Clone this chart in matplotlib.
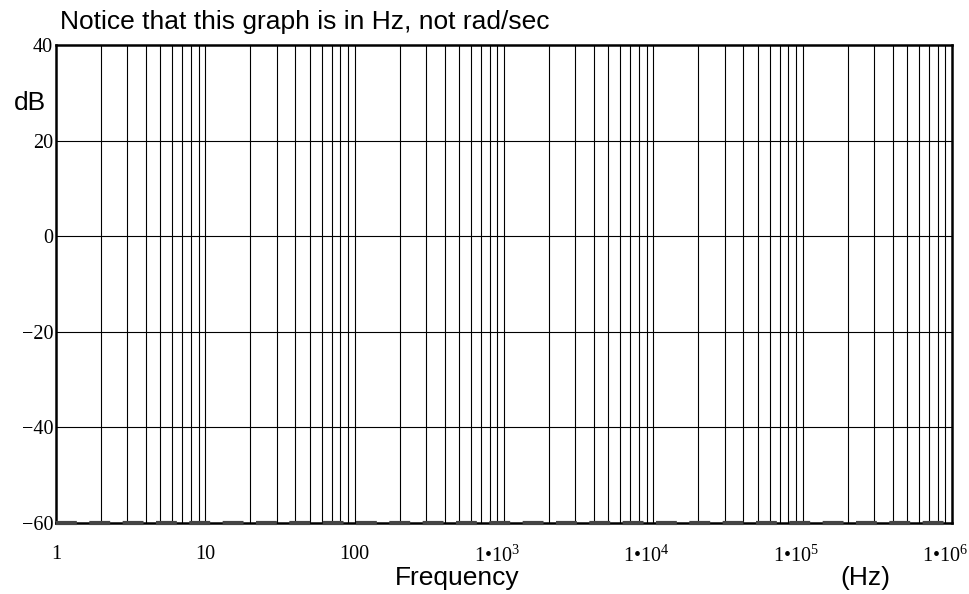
import numpy as np
import matplotlib
matplotlib.use('Agg')
from matplotlib import pyplot as plt
from matplotlib.ticker import FixedLocator, FixedFormatter
from matplotlib.transforms import ScaledTranslation

## data
x_ticks = [1, 10, 100, 1e3, 1e4, 1e5, 1e6]
x_labels = ['1', '10', '100', '1\u2022$10^{3}$', '1\u2022$10^{4}$',
            '1\u2022$10^{5}$', '1\u2022$10^{6}$']
y_ticks = [-60, -40, -20, 0, 20, 40]
y_labels = ['\u221260', '\u221240', '\u221220', '0', '20', '40']
trace_f = [1, 1e6]
trace_db = [-60, -60]

plt.rcParams['mathtext.fontset'] = 'custom'
plt.rcParams['mathtext.rm'] = 'Liberation Serif'
plt.rcParams['mathtext.it'] = 'Liberation Serif'
plt.rcParams['mathtext.default'] = 'rm'

fig = plt.figure(figsize=(9.69, 5.94), dpi=100)
ax = fig.add_axes([56/969, 1 - 523/594, 896/969, 478/594])
ax.set_xscale('log')
ax.set_xlim(1, 1e6)
ax.set_ylim(-60, 40)

## grid: every 1..9 in each decade, and every 20 dB
minor = [m * 10**d for d in range(6) for m in range(1, 10)][1:]
for f in minor:
    ax.axvline(f, color='black', lw=0.8, zorder=1)
for y in y_ticks[1:-1]:
    ax.axhline(y, color='black', lw=0.8, zorder=1)

ax.plot(trace_f, trace_db, color='#444444', lw=3, dashes=(5, 3), zorder=3,
        clip_on=False)

ax.xaxis.set_major_locator(FixedLocator(x_ticks))
ax.xaxis.set_major_formatter(FixedFormatter(x_labels))
ax.xaxis.set_minor_locator(FixedLocator([]))
ax.set_yticks(y_ticks)
ax.set_yticklabels(y_labels)
ax.tick_params(length=0)
ax.tick_params(axis='x', pad=16)
ax.tick_params(axis='y', pad=2)
for lab in ax.get_xticklabels() + ax.get_yticklabels():
    lab.set_fontfamily('Liberation Serif')
    lab.set_fontsize(14.5)
# exponent labels sit a bit left of their tick
for lab in ax.get_xticklabels()[3:]:
    lab.set_transform(lab.get_transform() + ScaledTranslation(-7/100, 0, fig.dpi_scale_trans))
for s in ax.spines.values():
    s.set_linewidth(1.8)

fig.text(60/969, 1 - 22/594, 'Notice that this graph is in Hz, not rad/sec',
         fontsize=19, family='Liberation Sans', va='center', ha='left')
fig.text(30/969, 1 - 103/594, 'dB', fontsize=19, family='Liberation Sans',
         va='center', ha='center')
fig.text(457/969, 1 - 578/594, 'Frequency', fontsize=19, family='Liberation Sans',
         va='center', ha='center')
fig.text(865/969, 1 - 578/594, '(Hz)', fontsize=19, family='Liberation Sans',
         va='center', ha='center')

plt.savefig('out.png', dpi=100)
